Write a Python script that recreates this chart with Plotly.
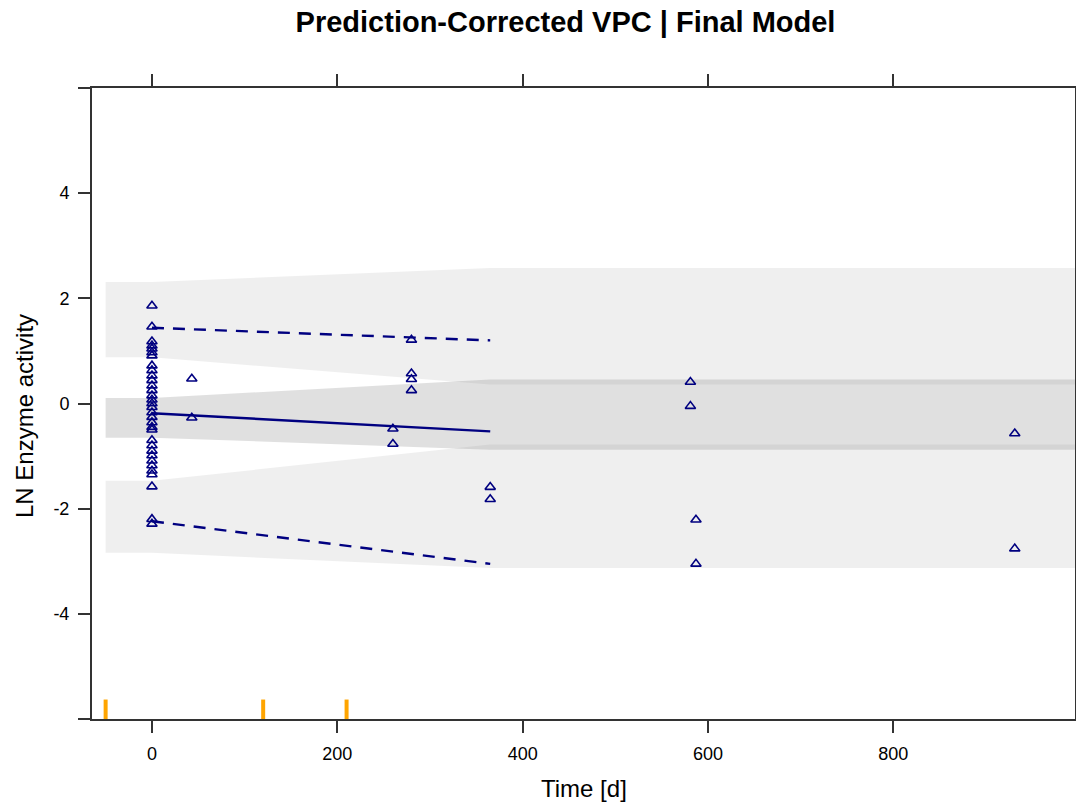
import plotly.graph_objects as go

# Observed (prediction-corrected) data
obs_time = [0] * 33 + [43, 43, 260, 260, 280, 280, 280, 280, 365, 365, 581, 581, 587, 587, 931, 931]
obs_value = [
    1.86, 1.46, 1.18, 1.10, 1.04, 0.97, 0.91, 0.72, 0.63, 0.53, 0.44, 0.34, 0.25, 0.15, 0.07,
    -0.07, -0.17, -0.26, -0.36, -0.45, -0.50, -0.70, -0.80, -0.90, -0.99, -1.09, -1.18,
    -1.28, -1.35, -1.58, -2.20, -2.29, 0.00,
    0.47, -0.27, -0.48, -0.77, 1.21, 0.57, 0.46, 0.25, -1.59, -1.82, 0.41, -0.05,
    -2.21, -3.05, -0.57, -2.76,
]

# Observed percentiles (5th, 50th, 95th) per bin
bin_time = [0, 365]
obs_p05 = [-2.24, -3.05]
obs_p50 = [-0.185, -0.53]
obs_p95 = [1.44, 1.20]

# Simulated confidence areas for the percentiles
ci_time = [-50, 0, 365, 1000]
p95_ci_lo = [0.878, 0.878, 0.363, 0.363]
p95_ci_hi = [2.31, 2.31, 2.576, 2.576]
p50_ci_lo = [-0.649, -0.649, -0.878, -0.878]
p50_ci_hi = [0.105, 0.105, 0.458, 0.458]
p05_ci_lo = [-2.84, -2.84, -3.13, -3.13]
p05_ci_hi = [-1.47, -1.47, -0.78, -0.78]

# Bin separators
bin_edges = [-50, 120, 210]

NAVY = "#000080"
FONT = "Liberation Sans, Arial, sans-serif"

fig = go.Figure()


def area(lo, hi, color):
    fig.add_trace(go.Scatter(
        x=ci_time + ci_time[::-1],
        y=hi + lo[::-1],
        fill="toself", fillcolor=color, mode="lines",
        line=dict(width=0), hoverinfo="skip", showlegend=False,
    ))


area(p95_ci_lo, p95_ci_hi, "rgba(128,128,128,0.125)")
area(p05_ci_lo, p05_ci_hi, "rgba(128,128,128,0.125)")
area(p50_ci_lo, p50_ci_hi, "rgba(128,128,128,0.245)")

for vals, dash in [(obs_p95, "12px,9px"), (obs_p05, "12px,9px"), (obs_p50, "solid")]:
    fig.add_trace(go.Scatter(
        x=bin_time, y=vals, mode="lines",
        line=dict(color=NAVY, width=2.4, dash=dash), showlegend=False,
    ))

fig.add_trace(go.Scatter(
    x=obs_time, y=obs_value, mode="markers",
    marker=dict(symbol="triangle-up-open", size=9, color=NAVY, line=dict(width=1.6, color=NAVY)),
    showlegend=False,
))

# Bin separator marks along the bottom
sep_x, sep_y = [], []
for e in bin_edges:
    sep_x += [e, e, None]
    sep_y += [-6, -5.63, None]
fig.add_trace(go.Scatter(
    x=sep_x, y=sep_y, mode="lines",
    line=dict(color="#FFA500", width=4), showlegend=False, hoverinfo="skip",
))

axis_common = dict(
    showline=True, linecolor="#333333", linewidth=2, mirror="ticks",
    ticks="outside", ticklen=12, tickwidth=1.5, tickcolor="#333333",
    showgrid=False, zeroline=False, automargin=False, ticklabelstandoff=5,
    tickfont=dict(family=FONT, size=18, color="#000000"),
)

fig.update_layout(
    width=1076, height=802,
    margin=dict(l=92, r=1, t=88, b=83),
    paper_bgcolor="white", plot_bgcolor="white",
    font=dict(family=FONT, color="#000000"),
    title=dict(
        text="<b>Prediction-Corrected VPC | Final Model</b>",
        font=dict(family=FONT, size=29, color="#000000"),
        xref="container", x=565.5 / 1076, xanchor="center",
        yref="container", y=1 - 22 / 802, yanchor="middle",
    ),
    xaxis=dict(range=[-64.7, 996], tickvals=[0, 200, 400, 600, 800], **axis_common),
    yaxis=dict(
        range=[-6, 6], tickvals=[-6, -4, -2, 0, 2, 4, 6],
        ticktext=["", "-4", "-2", "0", "2", "4", ""], **axis_common,
    ),
    annotations=[
        dict(text="Time [d]", xref="paper", yref="paper", x=0.5, y=(719 - 788) / 631,
             xanchor="center", yanchor="middle", showarrow=False,
             font=dict(family=FONT, size=24, color="#000000")),
        dict(text="LN Enzyme activity", xref="paper", yref="paper",
             x=(24 - 92) / 983, y=(719 - 416) / 631,
             xanchor="center", yanchor="middle", textangle=-90, showarrow=False,
             font=dict(family=FONT, size=24, color="#000000")),
    ],
)

fig.write_html("out.html")
